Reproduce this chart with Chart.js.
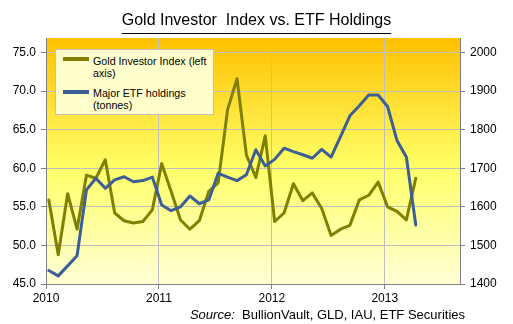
<!DOCTYPE html>
<html>
<head>
<meta charset="utf-8">
<script src="https://cdn.jsdelivr.net/npm/chart.js@4.4.0/dist/chart.umd.min.js"></script>
<style>
    html, body { margin: 0; padding: 0; background: #fff; }
    #wrap {
        position: relative;
        width: 513px;
        height: 324px;
        font-family: 'Liberation Sans', Arial, sans-serif;
        color: #000;
    }
    #chart { position: absolute; left: 0; top: 0; }
    .title {
        position: absolute;
        left: 0;
        top: 10px;
        width: 513px;
        text-align: center;
        font-size: 16px;
        line-height: 20px;
        white-space: pre;
        text-decoration: underline;
        text-decoration-thickness: 1px;
        text-underline-offset: 7.5px;
    }
    .legend {
        position: absolute;
        left: 55px;
        top: 49px;
        width: 159px;
        height: 66px;
        box-sizing: border-box;
        background: #FFFFCC;
        border: 1px solid #C0C0C0;
        font-size: 10.7px;
        line-height: 12px;
    }
    .legend .swatch {
        position: absolute;
        left: 7px;
        width: 26px;
        height: 4px;
    }
    .legend .label { position: absolute; left: 37px; }
    .source {
        position: absolute;
        right: 48px;
        top: 307px;
        font-size: 13px;
        line-height: 15px;
        white-space: pre;
    }
</style>
</head>
<body>
<div id="wrap">
    <canvas id="chart" width="513" height="324"></canvas>
    <div class="title">Gold Investor  Index vs. ETF Holdings</div>
    <div class="legend">
        <div class="swatch" style="top: 7px; background: #7F7F00;"></div>
        <div class="label" style="top: 5px;">Gold Investor Index (left<br>axis)</div>
        <div class="swatch" style="top: 40px; background: #3B5F96;"></div>
        <div class="label" style="top: 37px;">Major ETF holdings<br>(tonnes)</div>
    </div>
    <div class="source"><i>Source:</i>  BullionVault, GLD, IAU, ETF Securities</div>
</div>
<script>
(function () {
    'use strict';

    const months = [
        '2010-01', '2010-02', '2010-03', '2010-04', '2010-05', '2010-06',
        '2010-07', '2010-08', '2010-09', '2010-10', '2010-11', '2010-12',
        '2011-01', '2011-02', '2011-03', '2011-04', '2011-05', '2011-06',
        '2011-07', '2011-08', '2011-09', '2011-10', '2011-11', '2011-12',
        '2012-01', '2012-02', '2012-03', '2012-04', '2012-05', '2012-06',
        '2012-07', '2012-08', '2012-09', '2012-10', '2012-11', '2012-12',
        '2013-01', '2013-02', '2013-03', '2013-04',
    ];

    // Gold Investor Index (left axis)
    const goldIndex = [
        55.9, 48.8, 56.7, 52.1, 59.1, 58.7, 61.1, 54.2, 53.2, 52.9, 53.1, 54.6,
        60.6, 57.0, 53.3, 52.1, 53.2, 57.0, 58.1, 67.6, 71.6, 61.7, 58.8, 64.2,
        53.1, 54.2, 58.0, 55.8, 56.8, 54.8, 51.3, 52.1, 52.6, 55.9, 56.5, 58.2,
        55.0, 54.4, 53.3, 58.7,
    ];

    // Major ETF holdings, tonnes (right axis)
    const etfHoldings = [
        1435, 1421, 1447, 1473, 1644, 1674, 1648, 1670, 1678, 1665, 1668, 1677,
        1605, 1590, 1600, 1628, 1608, 1618, 1687, 1677, 1668, 1683, 1748, 1706,
        1723, 1752, 1743, 1735, 1726, 1749, 1729, 1782, 1836, 1862, 1890, 1890,
        1860, 1772, 1729, 1553,
    ];

    const leftTicks = [45, 50, 55, 60, 65, 70, 75];
    const rightTicks = [1400, 1500, 1600, 1700, 1800, 1900, 2000];
    const yearTicks = [2010, 2011, 2012, 2013];

    const BASE_YEAR = 2010;
    const GRID = '#BFBFBF';
    const AXIS = '#808080';
    const tickFont = { family: "'Liberation Sans', Arial, sans-serif", size: 12 };

    // points sit about a third of the way into each month
    function monthPos(m) {
        const [y, mo] = m.split('-').map(Number);
        return (y - BASE_YEAR) * 12 + (mo - 1) + 0.3;
    }

    function toPoints(values) {
        return values.map((v, i) => ({ x: monthPos(months[i]), y: v }));
    }

    const plotBackground = {
        id: 'plotBackground',
        beforeDraw(chart) {
            const { ctx, chartArea: a } = chart;
            const g = ctx.createLinearGradient(0, a.top, 0, a.bottom);
            g.addColorStop(0, '#FFC000');
            g.addColorStop(0.52, '#FFFF66');
            g.addColorStop(1, '#FFFFD6');
            ctx.save();
            ctx.fillStyle = g;
            ctx.fillRect(a.left, a.top, a.right - a.left, a.bottom - a.top);
            ctx.restore();
        },
    };

    new Chart(document.getElementById('chart'), {
        type: 'line',
        data: {
            datasets: [
                {
                    label: 'Major ETF holdings (tonnes)',
                    data: toPoints(etfHoldings),
                    yAxisID: 'y1',
                    borderColor: '#3B5F96',
                    borderWidth: 3,
                    order: 0,
                },
                {
                    label: 'Gold Investor Index (left axis)',
                    data: toPoints(goldIndex),
                    yAxisID: 'y',
                    borderColor: '#7F7F00',
                    borderWidth: 3,
                    order: 1,
                },
            ],
        },
        options: {
            responsive: false,
            animation: false,
            layout: { padding: { top: 38, bottom: 20, left: 0, right: 0 } },
            elements: {
                point: { radius: 0 },
                line: { tension: 0, borderJoinStyle: 'round', borderCapStyle: 'round' },
            },
            plugins: {
                legend: { display: false },
                tooltip: { enabled: false },
            },
            scales: {
                x: {
                    type: 'linear',
                    min: 0,
                    max: 44,
                    afterBuildTicks: (s) => {
                        s.ticks = yearTicks.map((y) => ({ value: (y - BASE_YEAR) * 12 }));
                    },
                    afterFit: (s) => { s.height = 20; },
                    grid: { color: GRID, tickColor: AXIS, tickLength: 5 },
                    border: { color: AXIS },
                    ticks: {
                        color: '#000',
                        font: tickFont,
                        padding: 2,
                        maxRotation: 0,
                        callback: (v) => String(BASE_YEAR + v / 12),
                    },
                },
                y: {
                    type: 'linear',
                    position: 'left',
                    min: 45,
                    max: 76.88,
                    afterBuildTicks: (s) => {
                        s.ticks = leftTicks.map((v) => ({ value: v }));
                    },
                    afterFit: (s) => { s.width = 46; },
                    grid: { color: GRID, tickColor: AXIS, tickLength: 5 },
                    border: { color: AXIS },
                    ticks: {
                        color: '#000',
                        font: tickFont,
                        padding: 5,
                        callback: (v) => v.toFixed(1),
                    },
                },
                y1: {
                    type: 'linear',
                    position: 'right',
                    min: 1400,
                    max: 2037.6,
                    afterBuildTicks: (s) => {
                        s.ticks = rightTicks.map((v) => ({ value: v }));
                    },
                    afterFit: (s) => { s.width = 53; },
                    grid: { drawOnChartArea: false, tickColor: AXIS, tickLength: 5 },
                    border: { color: AXIS },
                    ticks: {
                        color: '#000',
                        font: tickFont,
                        padding: 5,
                        callback: (v) => String(v),
                    },
                },
            },
        },
        plugins: [plotBackground],
    });
})();
</script>
</body>
</html>
